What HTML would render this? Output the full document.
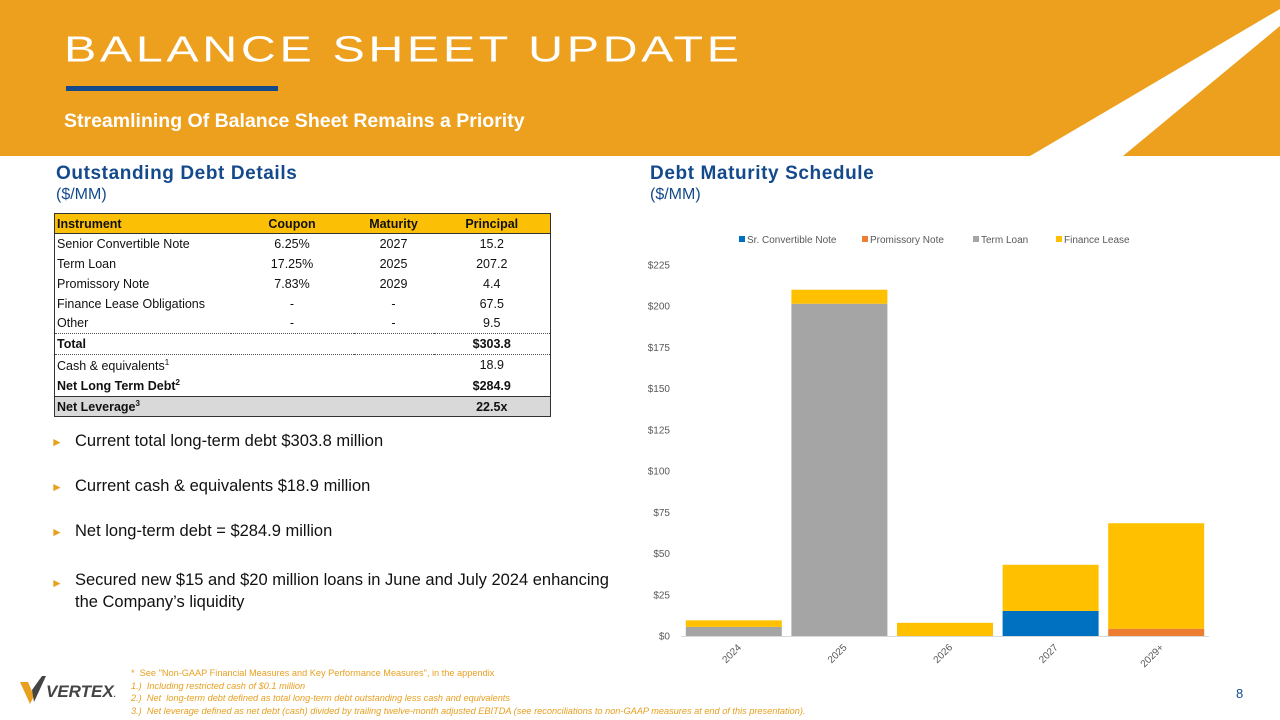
<!DOCTYPE html>
<html><head><meta charset="utf-8"><style>
*{margin:0;padding:0;box-sizing:border-box}
body{width:1280px;height:720px;position:relative;overflow:hidden;background:#fff;font-family:"Liberation Sans",sans-serif}
.abs{position:absolute}
table{border-collapse:collapse;font-family:"Liberation Sans",sans-serif;font-size:12.5px;color:#111;table-layout:fixed}
td{height:20px;padding:0 2px;white-space:nowrap}
td.c{text-align:center}
.bul{font-size:16.5px;color:#111;left:75px;white-space:nowrap}
.arr{position:absolute;left:-24px;color:#e8a020;font-size:12px;top:3px}
.fn{font-size:9.2px;color:#e8a020;font-style:italic;left:131px;white-space:nowrap}
</style></head><body>
<svg class="abs" style="left:0;top:0" width="1280" height="160">
<rect x="0" y="0" width="1280" height="156" fill="#eca01e"/>
<polygon points="1280,9 1280,26 1123,156 1030,156" fill="#fff"/>
<rect x="66" y="86" width="212" height="5" fill="#144a8c"/>
</svg>
<div class="abs" style="left:64px;top:30px;font-size:40px;color:#fff;letter-spacing:3px;white-space:nowrap;transform:scale(1.21,0.9);transform-origin:left top">BALANCE SHEET UPDATE</div>
<div class="abs" style="left:64px;top:110px;font-size:19.5px;font-weight:bold;color:#fff;white-space:nowrap">Streamlining Of Balance Sheet Remains a Priority</div>
<div class="abs" style="left:56px;top:163px;font-size:19px;font-weight:bold;color:#144a8c;letter-spacing:0.6px">Outstanding Debt Details</div>
<div class="abs" style="left:56px;top:186px;font-size:16px;color:#144a8c">($/MM)</div>
<div class="abs" style="left:650px;top:163px;font-size:19px;font-weight:bold;color:#144a8c;letter-spacing:0.6px">Debt Maturity Schedule</div>
<div class="abs" style="left:650px;top:186px;font-size:16px;color:#144a8c">($/MM)</div>

<table class="abs" style="left:54px;top:213px;width:496px;border:1px solid #333">
<colgroup><col style="width:176px"><col style="width:123px"><col style="width:80px"><col style="width:117px"></colgroup>
<tr style="background:#fbbf06;font-weight:bold;border-bottom:1px solid #333"><td>Instrument</td><td class="c">Coupon</td><td class="c">Maturity</td><td class="c">Principal</td></tr>
<tr><td>Senior Convertible Note</td><td class="c">6.25%</td><td class="c">2027</td><td class="c">15.2</td></tr>
<tr><td>Term Loan</td><td class="c">17.25%</td><td class="c">2025</td><td class="c">207.2</td></tr>
<tr><td>Promissory Note</td><td class="c">7.83%</td><td class="c">2029</td><td class="c">4.4</td></tr>
<tr><td>Finance Lease Obligations</td><td class="c">-</td><td class="c">-</td><td class="c">67.5</td></tr>
<tr style="border-bottom:1px dotted #555"><td>Other</td><td class="c">-</td><td class="c">-</td><td class="c">9.5</td></tr>
<tr style="font-weight:bold;border-bottom:1px dotted #555"><td style="height:21px">Total</td><td></td><td></td><td class="c">$303.8</td></tr>
<tr><td style="height:21px">Cash &amp; equivalents<sup style="font-size:8px">1</sup></td><td></td><td></td><td class="c">18.9</td></tr>
<tr style="font-weight:bold;border-bottom:1px solid #333"><td style="height:21px">Net Long Term Debt<sup style="font-size:8px">2</sup></td><td></td><td></td><td class="c">$284.9</td></tr>
<tr style="font-weight:bold;background:#d9d9d9"><td>Net Leverage<sup style="font-size:8px">3</sup></td><td></td><td></td><td class="c">22.5x</td></tr>
</table>

<div class="abs bul" style="top:432px"><span class="arr">►</span>Current total long-term debt $303.8 million</div>
<div class="abs bul" style="top:477px"><span class="arr">►</span>Current cash &amp; equivalents $18.9 million</div>
<div class="abs bul" style="top:522px"><span class="arr">►</span>Net long-term debt = $284.9 million</div>
<div class="abs bul" style="top:569px;line-height:22px"><span class="arr">►</span>Secured new $15 and $20 million loans in June and July 2024 enhancing<br>the Company’s liquidity</div>

<svg class="abs" style="left:0;top:0" width="1280" height="720" id="chart"></svg>

<div class="abs" style="left:18px;top:676px;width:130px;height:30px">
<svg width="30" height="30" class="abs" style="left:0;top:0"><polygon points="2,6 10,6 16,20 12,28" fill="#e8a020"/><polygon points="14,14 24,0 28,0 16,26" fill="#444"/></svg>
<div class="abs" style="left:28px;top:6px;font-size:17px;font-weight:bold;font-style:italic;color:#444">VERTEX<span style="font-size:8px">.</span></div>
</div>
<div class="abs fn" style="top:668px;font-style:normal">*&nbsp; See "Non-GAAP Financial Measures and Key Performance Measures", in the appendix</div>
<div class="abs fn" style="top:681px">1.)&nbsp; Including restricted cash of $0.1 million</div>
<div class="abs fn" style="top:693px">2.)&nbsp; Net&nbsp; long-term debt defined as total long-term debt outstanding less cash and equivalents</div>
<div class="abs fn" style="top:706px">3.)&nbsp; Net leverage defined as net debt (cash) divided by trailing twelve-month adjusted EBITDA (see reconciliations to non-GAAP measures at end of this presentation).</div>
<div class="abs" style="left:1236px;top:686px;font-size:13px;color:#144a8c">8</div>

<script>
const categories=["2024","2025","2026","2027","2029+"];
const seriesNames=["Sr. Convertible Note","Promissory Note","Term Loan","Finance Lease"];
const seriesColors=["#0070c0","#ed7d31","#a5a5a5","#ffc000"];
const convertible=[0,0,0,15.2,0];
const promissory=[0,0,0,0,4.4];
const termLoan=[5.5,201.5,0,0,0];
const financeLease=[4,8.5,8,28,64];
const yTicks=[0,25,50,75,100,125,150,175,200,225];
const series=[convertible,promissory,termLoan,financeLease];
const svg=document.getElementById('chart');
const NS='http://www.w3.org/2000/svg';
const x0=681,x1=1209,yBase=636,yTop=265,yMax=225;
const y=v=>yBase-(v/yMax)*(yBase-yTop);
const band=(x1-x0)/categories.length;
const xc=i=>x0+band*(i+0.5);
const bw=96;
function mk(tag,attrs){const e=document.createElementNS(NS,tag);for(const k in attrs)e.setAttribute(k,attrs[k]);svg.appendChild(e);return e;}
yTicks.forEach(t=>{const e=mk('text',{x:670,y:y(t)+3.5,'text-anchor':'end','font-size':'10','fill':'#595959','font-family':'Liberation Sans'});


e.textContent='$'+t;});
const ax=mk('line',{x1:x0,x2:x1,y1:yBase+0.5,y2:yBase+0.5,stroke:'#d9d9d9'});


categories.forEach((c,i)=>{let acc=0;
series.forEach((s,k)=>{const v=s[i];if(v>0){const r=mk('rect',{x:xc(i)-bw/2,y:y(acc+v),width:bw,height:y(acc)-y(acc+v),fill:seriesColors[k]});

}acc+=v;});
const tx=xc(i)+8,ty=yBase+12;
const t=mk('text',{x:tx,y:ty,'text-anchor':'end','font-size':'10','fill':'#595959','font-family':'Liberation Sans',transform:`rotate(-45 ${tx} ${ty})`});


t.textContent=c;});
const lx=[739,862,973,1056];
seriesNames.forEach((n,k)=>{const r=mk('rect',{x:lx[k],y:236,width:6,height:6,fill:seriesColors[k]});


const t=mk('text',{x:lx[k]+8,y:243,'font-size':'10','fill':'#595959','font-family':'Liberation Sans'});


t.textContent=n;});
</script>
</body></html>
